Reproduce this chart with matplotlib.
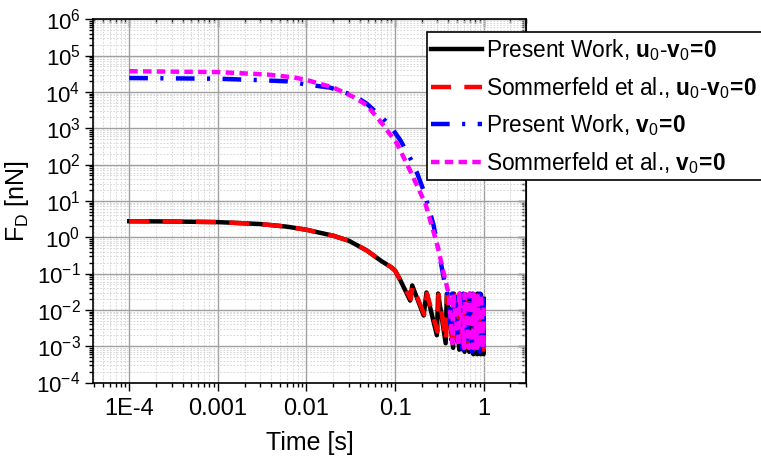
import math
import matplotlib
matplotlib.use("Agg")
import matplotlib.pyplot as plt
from matplotlib.ticker import LogLocator, FixedLocator, NullFormatter, FuncFormatter

plt.rcParams['font.family'] = ['Liberation Sans', 'DejaVu Sans']
plt.rcParams['mathtext.fontset'] = 'custom'
plt.rcParams['mathtext.rm'] = 'Liberation Sans'
plt.rcParams['mathtext.bf'] = 'Liberation Sans:bold'
plt.rcParams['mathtext.it'] = 'Liberation Sans:italic'

# Present Work, u0-v0=0
t_pw_rel = [1e-4, 3e-4, 1e-3, 3e-3, 6e-3, 0.01, 0.02, 0.03, 0.048, 0.07, 0.09, 0.1, 0.115,
            0.148, 0.156, 0.21, 0.226, 0.296, 0.306, 0.372, 0.383, 0.452, 0.461, 0.53, 0.539,
            0.608, 0.617, 0.686, 0.695, 0.764, 0.773, 0.842, 0.851, 0.92, 0.929, 0.995, 1.0]
f_pw_rel = [2.75, 2.7, 2.6, 2.3, 1.95, 1.6, 1.1, 0.8, 0.43, 0.22, 0.15, 0.12, 0.064,
            0.018, 0.047, 0.007, 0.030, 0.002, 0.028, 0.0012, 0.027, 0.0009, 0.028, 0.0008, 0.028,
            0.0007, 0.027, 0.0007, 0.028, 0.0006, 0.027, 0.0006, 0.028, 0.0006, 0.027, 0.0006, 0.02]

# Sommerfeld et al., u0-v0=0
t_sf_rel = [1e-4, 3e-4, 1e-3, 3e-3, 6e-3, 0.01, 0.02, 0.03, 0.048, 0.07, 0.09, 0.1, 0.115,
            0.15, 0.158, 0.213, 0.229, 0.3, 0.31, 0.376, 0.387, 0.456, 0.465, 0.534, 0.543,
            0.612, 0.621, 0.69, 0.699, 0.768, 0.777, 0.846, 0.855, 0.924, 0.933, 0.996, 1.0]
f_sf_rel = [2.75, 2.7, 2.6, 2.3, 1.95, 1.6, 1.1, 0.8, 0.43, 0.22, 0.15, 0.12, 0.064,
            0.02, 0.045, 0.0075, 0.028, 0.0025, 0.026, 0.0014, 0.026, 0.001, 0.026, 0.001, 0.026,
            0.0009, 0.025, 0.0009, 0.026, 0.0008, 0.025, 0.0008, 0.025, 0.0008, 0.025, 0.0008, 0.02]

# Present Work, v0=0
t_pw_v0 = [1e-4, 1e-3, 3e-3, 6e-3, 0.01, 0.0186, 0.034, 0.048, 0.074, 0.092, 0.115, 0.149,
           0.17, 0.21, 0.27, 0.32, 0.36, 0.40, 0.43, 0.44, 0.5, 0.51, 0.58, 0.59, 0.66, 0.67,
           0.74, 0.75, 0.82, 0.83, 0.9, 0.91, 0.98, 0.99, 1.0]
f_pw_v0 = [2.4e4, 2.3e4, 2.1e4, 1.95e4, 1.6e4, 1.3e4, 8.0e3, 4.7e3, 1.8e3, 1.0e3, 460, 144,
           76, 19, 2.3, 0.28, 0.06, 0.022, 0.0015, 0.028, 0.001, 0.029, 0.0008, 0.028, 0.0008, 0.029,
           0.0007, 0.028, 0.0007, 0.029, 0.0007, 0.028, 0.0007, 0.028, 0.002]

# Sommerfeld et al., v0=0
t_sf_v0 = [1e-4, 1e-3, 3.6e-3, 7.2e-3, 0.0102, 0.0203, 0.034, 0.048, 0.074, 0.105, 0.149,
           0.22, 0.3, 0.354, 0.386, 0.405, 0.445, 0.455, 0.52, 0.53, 0.6, 0.61, 0.68, 0.69,
           0.76, 0.77, 0.84, 0.85, 0.92, 0.93, 0.99, 1.0]
f_sf_v0 = [3.7e4, 3.5e4, 3.0e4, 2.5e4, 2.1e4, 1.3e4, 7.2e3, 4.3e3, 1.2e3, 375, 65,
           8.3, 0.6, 0.1, 0.042, 0.025, 0.0012, 0.027, 0.001, 0.028, 0.0009, 0.027, 0.0009, 0.028,
           0.0009, 0.027, 0.0009, 0.028, 0.0009, 0.027, 0.0009, 0.012]

x_ticks = [1e-4, 1e-3, 1e-2, 1e-1, 1]
x_ticklabels = ['1E-4', '0.001', '0.01', '0.1', '1']

fig = plt.figure(figsize=(7.61, 4.57), dpi=100)
ax = fig.add_axes([0.1222, 0.163, 0.569, 0.795])

eq0 = r'\!\mathbf{=}\!\mathbf{0}'
lw = 3.2
l1, = ax.plot(t_pw_rel, f_pw_rel, color='black', lw=lw, solid_joinstyle='round',
              label=r'Present Work, $\mathbf{u}_{\mathrm{0}}$-$\mathbf{v}_{\mathrm{0}}' + eq0 + '$')
l2, = ax.plot(t_sf_rel, f_sf_rel, color='#ff0000', lw=lw, dashes=(4.5, 3),
              label=r'Sommerfeld et al., $\mathbf{u}_{\mathrm{0}}$-$\mathbf{v}_{\mathrm{0}}' + eq0 + '$')
l3, = ax.plot(t_pw_v0, f_pw_v0, color='#0000ff', lw=lw, dashes=(4.2, 2.8, 0.7, 2.8),
              label=r'Present Work, $\mathbf{v}_{\mathrm{0}}' + eq0 + '$')
l4, = ax.plot(t_sf_v0, f_sf_v0, color='#ff00ff', lw=lw, dashes=(1.9, 1.2),
              label=r'Sommerfeld et al., $\mathbf{v}_{\mathrm{0}}' + eq0 + '$')

ax.set_xscale('log')
ax.set_yscale('log')
ax.set_xlim(3.9e-5, 3.0)
ax.set_ylim(1e-4, 1e6)

ax.xaxis.set_major_locator(FixedLocator(x_ticks))
ax.set_xticklabels(x_ticklabels)
ax.xaxis.set_minor_locator(LogLocator(base=10, subs=range(2, 10), numticks=20))
ax.xaxis.set_minor_formatter(NullFormatter())
ax.yaxis.set_major_locator(LogLocator(base=10, numticks=20))
ax.yaxis.set_minor_locator(LogLocator(base=10, subs=range(2, 10), numticks=20))
ax.yaxis.set_minor_formatter(NullFormatter())
ax.yaxis.set_major_formatter(FuncFormatter(lambda v, p: r'$\mathregular{10^{%d}}$' % round(math.log10(v))))

ax.tick_params(which='major', direction='out', length=6, width=1, pad=3)
ax.tick_params(axis='x', which='major', labelsize=17, pad=5)
ax.tick_params(axis='y', which='major', labelsize=16)
ax.tick_params(which='minor', direction='out', length=3, width=1)

ax.grid(which='major', color='#a0a0a0', lw=1.0, ls='-')
ax.grid(which='minor', color='#d0d0d0', lw=0.6, ls=(0, (2, 2)))
ax.set_axisbelow(True)

sx = ax.secondary_xaxis('top')
sx.xaxis.set_major_locator(FixedLocator(x_ticks))
sx.xaxis.set_minor_locator(LogLocator(base=10, subs=range(2, 10), numticks=20))
sx.tick_params(which='major', direction='in', length=6, width=1, labeltop=False)
sx.tick_params(which='minor', direction='in', length=3, width=1)
sx.xaxis.set_minor_formatter(NullFormatter())
sy = ax.secondary_yaxis('right')
sy.yaxis.set_major_locator(LogLocator(base=10, numticks=20))
sy.yaxis.set_minor_locator(LogLocator(base=10, subs=range(2, 10), numticks=20))
sy.tick_params(which='major', direction='in', length=6, width=1, labelright=False)
sy.tick_params(which='minor', direction='in', length=3, width=1)
sy.yaxis.set_minor_formatter(NullFormatter())

for s in ax.spines.values():
    s.set_linewidth(1.2)

ax.set_xlabel('Time [s]', fontsize=18, labelpad=8)
ax.set_ylabel(r'F$_\mathregular{D}$ [nN]', fontsize=18, labelpad=4)

leg = fig.legend(handles=[l1, l2, l3, l4], loc='upper left', bbox_to_anchor=(0.561, 0.929),
                 fontsize=16.3, frameon=True, fancybox=False, shadow=False, framealpha=1,
                 handlelength=2.25, handletextpad=0.15, borderpad=0.2, borderaxespad=0,
                 labelspacing=0.52)
leg.get_frame().set_edgecolor('black')
leg.get_frame().set_linewidth(1.2)

fig.savefig('out.png', dpi=100)
